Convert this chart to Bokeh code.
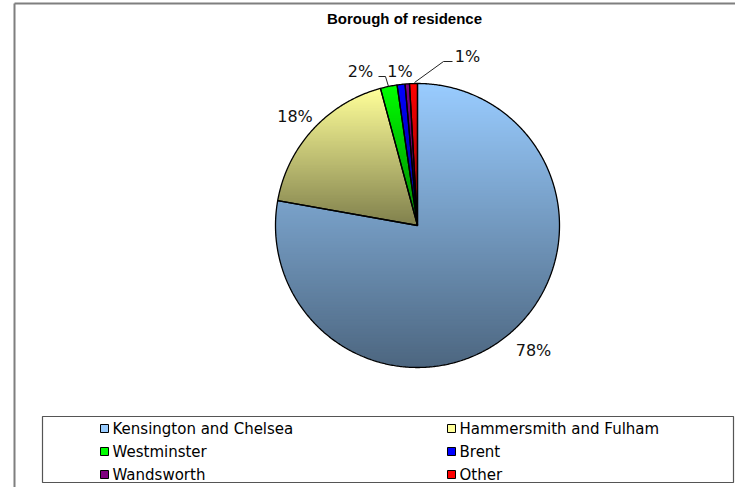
import numpy as np
from bokeh.plotting import figure
from bokeh.models import Range1d
from bokeh.core.properties import value
from bokeh.embed import file_html
from bokeh.resources import INLINE

# ---------------- data ----------------
chart_title = "Borough of residence"
boroughs = ["Kensington and Chelsea", "Hammersmith and Fulham", "Westminster",
            "Brent", "Wandsworth", "Other"]
shares = [77.8, 18.0, 1.9, 0.9, 0.5, 0.9]
slice_colors = ["#99CCFF", "#FFFF99", "#00FF00", "#0000FF", "#800080", "#FF0000"]
pct_labels = ["78%", "18%", "2%", "1%", "", "1%"]

# ---------------- style / layout (pixel space) ----------------
W, H = 735, 487
CX, CY, R = 417.0, 225.0, 142.0
label_pos = [(533, 350), (294.5, 116), (360, 70.5), (399.5, 70.5), None, (467, 55.5)]
leaders = [([378, 385, 388], [76, 76, 86]), ([452, 443, 414], [61, 61, 82])]

p = figure(width=W, height=H, output_backend="svg", toolbar_location=None,
           x_range=Range1d(0, W), y_range=Range1d(H, 0),
           x_axis_location=None, y_axis_location=None, min_border=0,
           outline_line_color=None, background_fill_color="white",
           border_fill_color="white")
p.grid.visible = False


def hex2rgb(h):
    h = h.lstrip("#")
    return np.array([int(h[i:i + 2], 16) for i in (0, 2, 4)], dtype=float)


def rgb2hex(c):
    c = np.clip(np.round(c), 0, 255).astype(int)
    return "#%02x%02x%02x" % tuple(c)


def wedge_poly(a0, a1):
    n = max(2, int(abs(a1 - a0) / 0.5) + 2)
    th = np.radians(np.linspace(a0, a1, n))
    xs = [CX] + list(CX + R * np.sin(th))
    ys = [CY] + list(CY - R * np.cos(th))
    return list(zip(xs, ys))


def inter(p0, p1, yc):
    t = (yc - p0[1]) / (p1[1] - p0[1])
    return (p0[0] + t * (p1[0] - p0[0]), yc)


def clip_y(pts, yc, keep_greater):
    out = []
    n = len(pts)
    for i in range(n):
        cur, prev = pts[i], pts[i - 1]
        cin = cur[1] >= yc if keep_greater else cur[1] <= yc
        pin = prev[1] >= yc if keep_greater else prev[1] <= yc
        if cin:
            if not pin:
                out.append(inter(prev, cur, yc))
            out.append(cur)
        elif pin:
            out.append(inter(prev, cur, yc))
    return out


# cumulative angles (clockwise from 12 o'clock)
total = float(sum(shares))
ends = np.cumsum([s / total * 360.0 for s in shares])
starts = np.concatenate([[0.0], ends[:-1]])

band_xs, band_ys, band_cols = [], [], []
outline_xs, outline_ys = [], []
for a0, a1, col in zip(starts, ends, slice_colors):
    poly = wedge_poly(a0, a1)
    ys_ = [q[1] for q in poly]
    ymin, ymax = min(ys_), max(ys_)
    base = hex2rgb(col)
    step = 1.5
    y = ymin
    while y < ymax:
        y1 = min(y + step + 1.0, ymax)
        part = clip_y(clip_y(poly, y, True), y1, False)
        if len(part) >= 3:
            t = ((y + step / 2) - ymin) / max(ymax - ymin, 1e-6)
            t = min(max(t, 0), 1)
            c = base * (1 - 0.5 * t)
            band_xs.append([q[0] for q in part])
            band_ys.append([q[1] for q in part])
            band_cols.append(rgb2hex(c))
        y += step
    outline_xs.append([q[0] for q in poly])
    outline_ys.append([q[1] for q in poly])

p.patches(band_xs, band_ys, fill_color=band_cols, line_color=None)
p.patches(outline_xs, outline_ys, fill_alpha=0, line_color="black", line_width=1.3)

# percentage labels
lx, ly, lt = [], [], []
for pos, lab in zip(label_pos, pct_labels):
    if pos is None or not lab:
        continue
    lx.append(pos[0]); ly.append(pos[1]); lt.append(lab)
p.text(lx, ly, text=lt, text_align="center", text_baseline="middle",
       text_font=value("DejaVu Sans"), text_font_size="16px", text_color="#111111")
for xs, ys in leaders:
    p.line(xs, ys, line_color="#222222", line_width=1)

# title
p.text([404], [18], text=[chart_title], text_align="center", text_baseline="middle",
       text_font=value("Liberation Sans"), text_font_style="bold",
       text_font_size="15px", text_color="black")

# chart frame (left & top visible)
p.line([14, 14], [3, H], line_color="#7f7f7f", line_width=2)
p.line([14, W], [3, 3], line_color="#7f7f7f", line_width=2)

# legend box
p.quad(left=[42], right=[733], top=[416], bottom=[482], fill_color="white",
       line_color="#555555", line_width=1.2)
col_x = [100, 447]
row_y = [428, 451, 474]
mx, my, mc, tx, ty, tt = [], [], [], [], [], []
for i, (name, col) in enumerate(zip(boroughs, slice_colors)):
    cx_ = col_x[i % 2]
    cy_ = row_y[i // 2]
    mx.append(cx_ + 4); my.append(cy_); mc.append(col)
    tx.append(cx_ + 12); ty.append(cy_); tt.append(name)
p.rect(mx, my, width=8, height=8, fill_color=mc, line_color="black", line_width=1)
p.text(tx, ty, text=tt, text_align="left", text_baseline="middle",
       text_font=value("DejaVu Sans"), text_font_size="15px", text_color="black")

open("out.html", "w").write(file_html(p, INLINE))
